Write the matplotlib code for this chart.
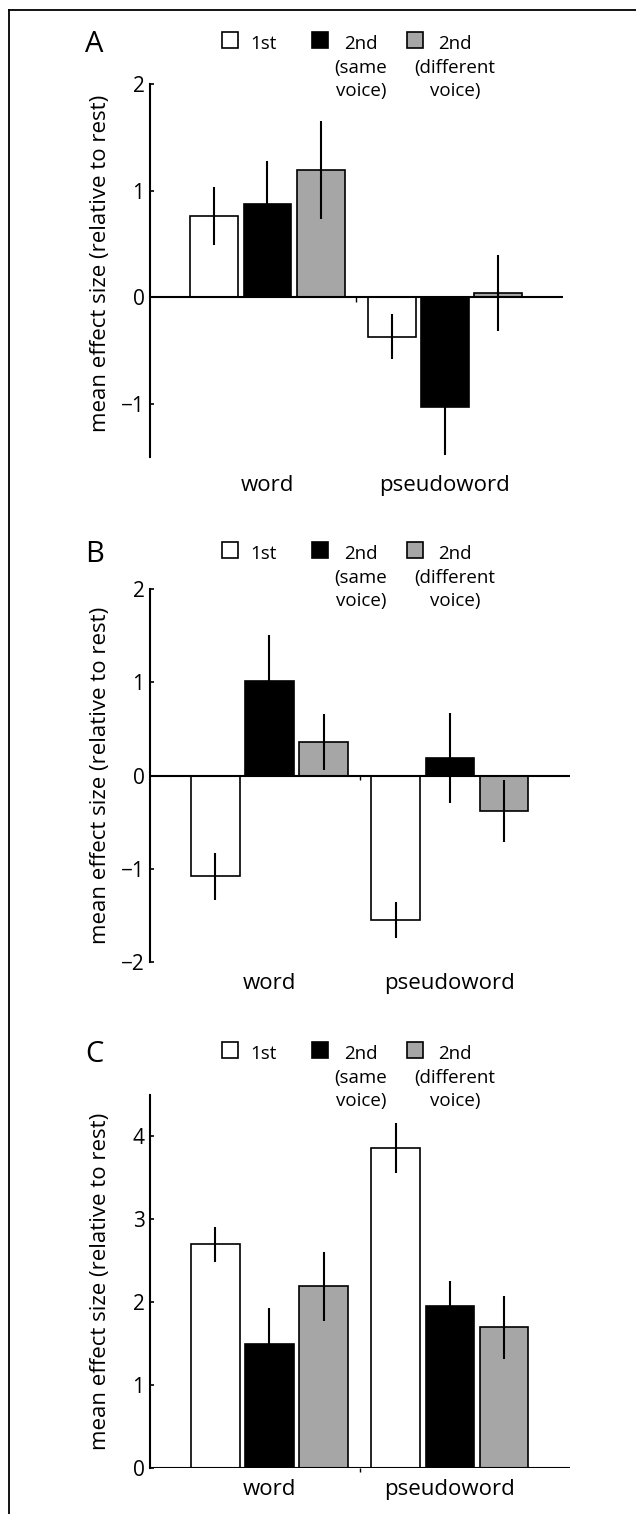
import numpy as np
import matplotlib.pyplot as plt
from matplotlib.patches import Rectangle
from matplotlib.lines import Line2D

plt.rcParams['font.family'] = ['Open Sans', 'DejaVu Sans']

# datos
groups = ["word", "pseudoword"]
conds = ["1st", "2nd\n(same\nvoice)", "2nd\n(different\nvoice)"]
colors = ["white", "black", "#a6a6a6"]

# panel A
a_mean = np.array([[0.76, 0.87, 1.19],
                   [-0.37, -1.03, 0.04]])
a_err = np.array([[0.27, 0.41, 0.46],
                  [0.21, 0.45, 0.36]])
# panel B
b_mean = np.array([[-1.08, 1.01, 0.36],
                   [-1.55, 0.19, -0.38]])
b_err = np.array([[0.25, 0.50, 0.30],
                  [0.19, 0.48, 0.33]])
# panel C
c_mean = np.array([[2.70, 1.50, 2.19],
                   [3.86, 1.95, 1.70]])
c_err = np.array([[0.21, 0.43, 0.42],
                  [0.30, 0.31, 0.38]])

W, H = 636, 1514
fig = plt.figure(figsize=(W/100, H/100), dpi=100)

def fx(px):
    return px / W

def fy(py):
    return 1 - py / H

# marco de la figura (solo arriba e izquierda)
fig.add_artist(Line2D([fx(9), 1], [fy(10), fy(10)], color="black", lw=1.3))
fig.add_artist(Line2D([fx(9), fx(9)], [fy(10), 0], color="black", lw=1.3))

def panel(top, bottom, right, mean, err, ylim, yticks, letter, pad, ltop, ylab_y):
    ax = fig.add_axes([fx(150), fy(bottom), fx(right) - fx(150), (bottom - top) / H])
    x = np.arange(1, len(groups) + 1)
    off = 0.30
    width = 0.27
    for j in range(3):
        ax.bar(x + (j - 1) * off, mean[:, j], width, color=colors[j],
               edgecolor="black", linewidth=1.2, zorder=2)
        ax.vlines(x + (j - 1) * off, mean[:, j] - err[:, j], mean[:, j] + err[:, j],
                  color="black", linewidth=1.5, zorder=3)
    ax.set_xlim(0.338, 2.665)
    ax.set_ylim(*ylim)
    ax.set_yticks(yticks)
    ax.set_yticklabels([str(t).replace("-", "\u2212") for t in yticks])
    ax.axhline(0, color="black", linewidth=1.5, zorder=4)
    ax.vlines(1.5, -0.012 * (ylim[1] - ylim[0]), 0, color="black", linewidth=1, clip_on=False)
    for s in ["top", "right", "bottom"]:
        ax.spines[s].set_visible(False)
    ax.spines["left"].set_linewidth(1.5)
    ax.tick_params(axis="y", direction="in", length=3, width=1.2, labelsize=15, pad=4)
    ax.set_xticks(x)
    ax.set_xticklabels(groups, fontsize=16)
    ax.tick_params(axis="x", length=0, pad=pad)
    ax.set_ylabel("mean effect size (relative to rest)", fontsize=16)
    ax.yaxis.set_label_coords(-39 / (right - 150), ylab_y)
    ax.patch.set_alpha(0)

    # letra del panel y leyenda
    fig.text(fx(85), fy(ltop + 20), letter, fontsize=21, ha="left", va="baseline")
    boxes = [222, 312, 407]
    tx = [263, 361, 455]
    for j in range(3):
        fig.add_artist(Rectangle((fx(boxes[j]), fy(ltop + 16)), 16 / W, 16 / H,
                                 facecolor=colors[j], edgecolor="black", lw=1.2))
        for i, line in enumerate(conds[j].split("\n")):
            fig.text(fx(tx[j]), fy(ltop + 17 + 23.5 * i), line, fontsize=13.5,
                     ha="center", va="baseline")
    return ax

panel(84, 457, 563, a_mean, a_err, (-1.5, 2), [-1, 0, 1, 2], "A", 13, 32, 0.52)
panel(589, 962, 570, b_mean, b_err, (-2, 2), [-2, -1, 0, 1, 2], "B", 8, 542, 0.5)
panel(1095, 1468, 570, c_mean, c_err, (0, 4.5), [0, 1, 2, 3, 4], "C", 8, 1042, 0.5)

fig.savefig("out.png", dpi=100)
